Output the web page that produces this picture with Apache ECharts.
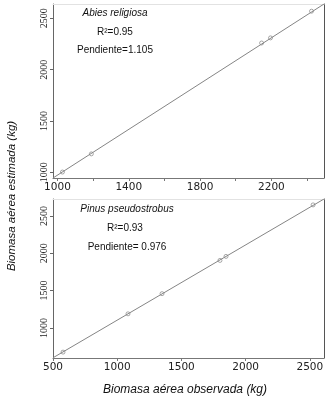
<!DOCTYPE html>
<html style="height: 100%">
<head>
	<meta charset="utf-8">
	<title></title>
</head>
<body style="height: 100%; margin: 0; background: #fff">
<div id="container" style="width: 332px; height: 404px"></div>

<script type="text/javascript" src="https://fastly.jsdelivr.net/npm/echarts@6/dist/echarts.min.js"></script>

<script type="text/javascript">
	// Abies religiosa (panel superior)
	var abiesObs = [1028, 1190, 2145, 2195, 2425];
	var abiesEst = [1003, 1180, 2260, 2310, 2570];
	var abiesLine = [[975, 945], [2495, 2640]];
	var abiesXTicks = [1000, 1200, 1400, 1600, 1800, 2000, 2200, 2400];
	var abiesXLabels = [1000, 1400, 1800, 2200];
	var abiesYTicks = [1000, 1500, 2000, 2500];

	// Pinus pseudostrobus (panel inferior)
	var pinusObs = [578, 1084, 1349, 1800, 1847, 2525];
	var pinusEst = [676, 1189, 1459, 1905, 1959, 2649];
	var pinusLine = [[500, 600], [2610, 2728]];
	var pinusXTicks = [500, 1000, 1500, 2000, 2500];
	var pinusYTicks = [1000, 1500, 2000, 2500];

	var dom = document.getElementById('container');
	var myChart = echarts.init(dom, null, { renderer: 'canvas' });

	function pairs(xs, ys) {
		return xs.map(function (x, i) { return [x, ys[i]]; });
	}
	function plain(v) { return String(v); }

	var xFont = { fontFamily: 'DejaVu Sans', fontSize: 10.5, color: '#222' };
	var yFont = { fontFamily: 'Liberation Sans Narrow', fontSize: 10, color: '#222' };

	function mainX(grid, min, max, ticks, labels) {
		return {
			type: 'value', gridIndex: grid, min: min, max: max, position: 'bottom',
			axisLine: { lineStyle: { color: '#777', width: 1 } },
			axisTick: { show: true, length: 3, customValues: ticks, lineStyle: { color: '#777' } },
			axisLabel: Object.assign({ customValues: labels, margin: 4, formatter: plain }, xFont),
			splitLine: { show: false }
		};
	}
	function mainY(grid, min, max, ticks) {
		return {
			type: 'value', gridIndex: grid, min: min, max: max, position: 'left',
			axisLine: { show: true, lineStyle: { color: '#666', width: 1 } },
			axisTick: { show: true, length: 3, customValues: ticks, lineStyle: { color: '#666' } },
			axisLabel: Object.assign({ customValues: ticks, rotate: 90, margin: 4, formatter: plain }, yFont),
			splitLine: { show: false }
		};
	}
	function border(grid, min, max, pos, color) {
		return {
			type: 'value', gridIndex: grid, min: min, max: max, position: pos,
			axisLine: { show: true, onZero: false, lineStyle: { color: color, width: 1 } },
			axisTick: { show: false }, axisLabel: { show: false }, splitLine: { show: false }
		};
	}

	var pointStyle = { color: '#fff', borderColor: '#777', borderWidth: 0.8 };
	var lineStyle = { color: '#858585', width: 1 };

	var option = {
		animation: false,
		backgroundColor: '#fff',
		grid: [
			{ left: 53, right: 8, top: 4, height: 174 },
			{ left: 53, right: 8, top: 199, height: 159 }
		],
		xAxis: [
			mainX(0, 975, 2495, abiesXTicks, abiesXLabels),
			border(0, 975, 2495, 'top', '#e2e2e2'),
			mainX(1, 500, 2610, pinusXTicks, pinusXTicks),
			border(1, 500, 2610, 'top', '#e2e2e2')
		],
		yAxis: [
			mainY(0, 945, 2640, abiesYTicks),
			border(0, 945, 2640, 'right', '#555'),
			mainY(1, 597, 2728, pinusYTicks),
			border(1, 597, 2728, 'right', '#555')
		],
		series: [
			{ type: 'line', xAxisIndex: 0, yAxisIndex: 0, data: abiesLine, symbol: 'none', lineStyle: lineStyle, silent: true },
			{ type: 'scatter', xAxisIndex: 0, yAxisIndex: 0, data: pairs(abiesObs, abiesEst), symbol: 'circle', symbolSize: 4, itemStyle: pointStyle },
			{ type: 'line', xAxisIndex: 2, yAxisIndex: 2, data: pinusLine, symbol: 'none', lineStyle: lineStyle, silent: true },
			{ type: 'scatter', xAxisIndex: 2, yAxisIndex: 2, data: pairs(pinusObs, pinusEst), symbol: 'circle', symbolSize: 4, itemStyle: pointStyle }
		],
		graphic: [
			{ type: 'text', x: 115, y: 13, style: { text: 'Abies religiosa', font: 'italic 10px "Liberation Sans", Arial', fill: '#111', align: 'center', verticalAlign: 'middle' } },
			{ type: 'text', x: 115, y: 32, style: { text: 'R²=0.95', font: '10px "Liberation Sans", Arial', fill: '#111', align: 'center', verticalAlign: 'middle' } },
			{ type: 'text', x: 115, y: 50, style: { text: 'Pendiente=1.105', font: '10px "Liberation Sans", Arial', fill: '#111', align: 'center', verticalAlign: 'middle' } },
			{ type: 'text', x: 127, y: 209, style: { text: 'Pinus pseudostrobus', font: 'italic 10px "Liberation Sans", Arial', fill: '#111', align: 'center', verticalAlign: 'middle' } },
			{ type: 'text', x: 125, y: 228, style: { text: 'R²=0.93', font: '10px "Liberation Sans", Arial', fill: '#111', align: 'center', verticalAlign: 'middle' } },
			{ type: 'text', x: 127, y: 247, style: { text: 'Pendiente= 0.976', font: '10px "Liberation Sans", Arial', fill: '#111', align: 'center', verticalAlign: 'middle' } },
			{ type: 'text', x: 12, y: 196, rotation: Math.PI / 2, style: { text: 'Biomasa aérea estimada (kg)', font: 'italic 11.5px "Liberation Sans", Arial', fill: '#111', align: 'center', verticalAlign: 'middle' } },
			{ type: 'text', x: 185, y: 390, style: { text: 'Biomasa aérea observada (kg)', font: 'italic 12px "Liberation Sans", Arial', fill: '#111', align: 'center', verticalAlign: 'middle' } }
		]
	};

	myChart.setOption(option);
	window.addEventListener('resize', myChart.resize);
</script>
</body>
</html>
